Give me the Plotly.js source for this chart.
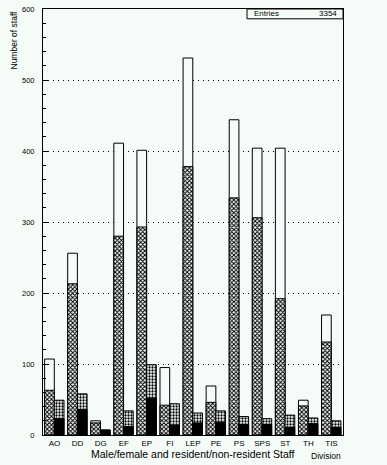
<!DOCTYPE html>
<html>
<head>
<meta charset="utf-8">
<script src="https://cdn.plot.ly/plotly-3.0.1.min.js"></script>
<style>
html,body{margin:0;padding:0;background:#f5fbf7;}
#chart{width:387px;height:465px;}
</style>
</head>
<body>
<div id="chart"></div>
<script>
// Divisions
const divisions = ["AO","DD","DG","EF","EP","FI","LEP","PE","PS","SPS","ST","TH","TIS"];
// Left bar: all staff and residents (hatched)
const totalStaff   = [107, 256, 20, 411, 401, 95, 531, 69, 444, 404, 404, 49, 169];
const leftHatched  = [63, 213, 17, 280, 293, 42, 378, 46, 334, 306, 192, 41, 131];
// Right bar: hatched and black portions
const rightHatched = [49, 58, 7, 34, 99, 44, 31, 34, 26, 23, 28, 24, 20];
const rightBlack   = [23, 36, 7, 12, 52, 14, 17, 18, 15, 15, 11, 16, 11];
const entries = 3354;

const BG = "#f5fbf7";
const FONT = "Liberation Sans, Arial, sans-serif";
const idx = divisions.map((d, i) => i);

const traces = [
  {type:"bar", x: idx, y: totalStaff, width: 0.42, offset: -0.43,
   marker:{color: BG, line:{color:"black", width:1}}, hoverinfo:"skip"},
  {type:"bar", x: idx, y: leftHatched, width: 0.42, offset: -0.43,
   marker:{color: BG, line:{color:"black", width:1},
     pattern:{shape:"x", size:3, solidity:0.55, fgcolor:"black", bgcolor: BG}}, hoverinfo:"skip"},
  {type:"bar", x: idx, y: rightHatched, width: 0.42, offset: -0.01,
   marker:{color: BG, line:{color:"black", width:1},
     pattern:{shape:".", size:3, solidity:0.45, fgcolor:"black", bgcolor: BG}}, hoverinfo:"skip"},
  {type:"bar", x: idx, y: rightBlack, width: 0.42, offset: -0.01,
   marker:{color: "black", line:{color:"black", width:1}}, hoverinfo:"skip"}
];

const layout = {
  width: 387, height: 465,
  margin: {l:43, r:44, t:9, b:30},
  paper_bgcolor: BG, plot_bgcolor: BG,
  barmode: "overlay",
  showlegend: false,
  font: {family: FONT, color: "black", size: 8},
  xaxis: {
    range: [-0.5, 12.5], tickmode: "array", tickvals: idx, ticktext: divisions,
    ticks: "", showgrid: false, zeroline: false,
    showline: true, linecolor: "black", linewidth: 1, mirror: true,
    tickfont: {family: FONT, size: 8}, ticklabelstandoff: 0
  },
  yaxis: {
    range: [0, 600], dtick: 100, tick0: 0,
    ticks: "inside", ticklen: 6, tickcolor: "black", tickwidth: 1,
    showgrid: true, gridcolor: "black", gridwidth: 1, griddash: "1px,4px",
    zeroline: false, showline: true, linecolor: "black", linewidth: 1, mirror: true,
    tickfont: {family: FONT, size: 7.5}, ticklabelstandoff: 6,
    minor: {dtick: 20, ticks: "inside", ticklen: 3, tickcolor: "black", showgrid: false}
  },
  shapes: [
    {type:"rect", xref:"paper", yref:"paper", x0: 0.68, x1: 1, y0: 0.977, y1: 1,
     line:{color:"black", width:1}, fillcolor: BG}
  ],
  annotations: [
    {xref:"paper", yref:"paper", x: 0.695, y: 0.9885, xanchor:"left", yanchor:"middle",
     text:"Entries", showarrow:false, font:{family:FONT, size:8}},
    {xref:"paper", yref:"paper", x: 0.987, y: 0.9885, xanchor:"right", yanchor:"middle",
     text: String(entries), showarrow:false, font:{family:FONT, size:8}},
    {xref:"paper", yref:"paper", x: -0.1, y: 1.0, xanchor:"center", yanchor:"top",
     textangle: -90, text:"Number of staff", showarrow:false, font:{family:FONT, size:8.5}},
    {xref:"paper", yref:"paper", x: 0.5, y: -0.026, xanchor:"center", yanchor:"top",
     text:"Male/female and resident/non-resident Staff", showarrow:false, font:{family:FONT, size:10.5}},
    {xref:"paper", yref:"paper", x: 1.0, y: -0.032, xanchor:"right", yanchor:"top",
     text:"Division", showarrow:false, font:{family:FONT, size:8.5}}
  ]
};

Plotly.newPlot("chart", traces, layout, {staticPlot: true, displayModeBar: false});
</script>
</body>
</html>
